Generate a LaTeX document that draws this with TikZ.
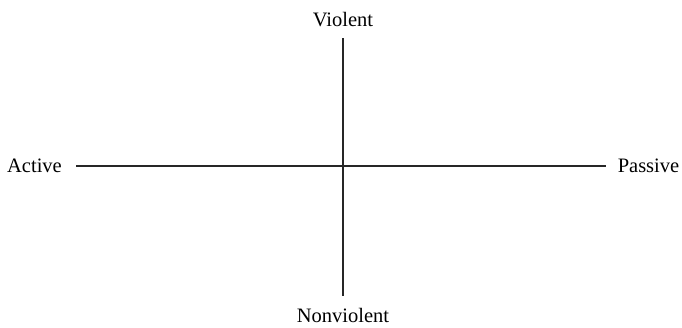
\documentclass[tikz,border=0pt]{standalone}
\usepackage{fontspec}
\setmainfont{Liberation Serif}
\usepackage{tikz}

\tikzset{
	axislabel/.style={anchor=base,inner sep=0pt,font=\fontsize{20.5}{24}\selectfont},
	axisline/.style={line width=1.1pt,black!85}
}

\begin{document}
\begin{tikzpicture}[x=1pt,y=-1pt]
\useasboundingbox (0,0) rectangle (682,327);
\node[axislabel] (violent) at (343, 26) {Violent};
\node[axislabel] (nonviolent) at (343, 322) {Nonviolent};
\node[axislabel] (active) at (34.5, 172) {Active};
\node[axislabel] (passive) at (648.5, 172) {Passive};
\coordinate (top) at (343, 38);
\coordinate (bottom) at (343, 296);
\coordinate (left) at (76, 166);
\coordinate (right) at (606, 166);
\draw[axisline] (top) -- (bottom);
\draw[axisline] (left) -- (right);
\end{tikzpicture}
\end{document}
